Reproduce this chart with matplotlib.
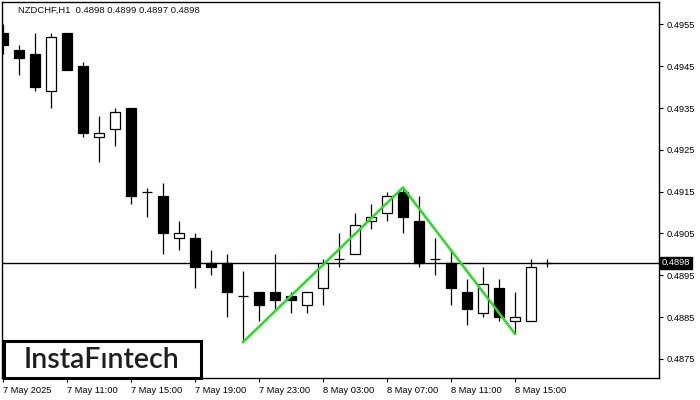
import matplotlib
matplotlib.use("Agg")
import matplotlib.pyplot as plt
from matplotlib.patches import Rectangle

# ---- data (NZDCHF H1) ----
times = ["7 May 07:00", "7 May 08:00", "7 May 09:00", "7 May 10:00", "7 May 11:00",
         "7 May 12:00", "7 May 13:00", "7 May 14:00", "7 May 15:00", "7 May 16:00",
         "7 May 17:00", "7 May 18:00", "7 May 19:00", "7 May 20:00", "7 May 21:00",
         "7 May 22:00", "7 May 23:00", "8 May 00:00", "8 May 01:00", "8 May 02:00",
         "8 May 03:00", "8 May 04:00", "8 May 05:00", "8 May 06:00", "8 May 07:00",
         "8 May 08:00", "8 May 09:00", "8 May 10:00", "8 May 11:00", "8 May 12:00",
         "8 May 13:00", "8 May 14:00", "8 May 15:00", "8 May 16:00", "8 May 17:00"]
opens  = [0.4953, 0.4949, 0.4948, 0.4939, 0.4953, 0.4945, 0.4928, 0.4930, 0.4935, 0.4915,
          0.4914, 0.4904, 0.4904, 0.4898, 0.4898, 0.4890, 0.4891, 0.4891, 0.4890, 0.4888,
          0.4892, 0.4899, 0.4900, 0.4908, 0.4910, 0.4915, 0.4908, 0.4899, 0.4898, 0.4891,
          0.4886, 0.4892, 0.4884, 0.4884, 0.4898]
highs  = [0.4955, 0.4950, 0.4953, 0.4953, 0.4953, 0.4946, 0.4933, 0.4935, 0.4935, 0.4916,
          0.4917, 0.4908, 0.4905, 0.4901, 0.4900, 0.4896, 0.4891, 0.4900, 0.4891, 0.4891,
          0.4899, 0.4905, 0.4910, 0.4912, 0.4915, 0.4916, 0.4914, 0.4904, 0.4901, 0.4894,
          0.4897, 0.4894, 0.4891, 0.4899, 0.4899]
lows   = [0.4948, 0.4943, 0.4939, 0.4935, 0.4944, 0.4928, 0.4922, 0.4926, 0.4912, 0.4909,
          0.4900, 0.4901, 0.4892, 0.4895, 0.4885, 0.4879, 0.4884, 0.4887, 0.4886, 0.4886,
          0.4888, 0.4897, 0.4900, 0.4906, 0.4908, 0.4905, 0.4897, 0.4895, 0.4888, 0.4883,
          0.4885, 0.4884, 0.4881, 0.4884, 0.4897]
closes = [0.4950, 0.4947, 0.4940, 0.4952, 0.4944, 0.4929, 0.4929, 0.4934, 0.4914, 0.4915,
          0.4905, 0.4905, 0.4897, 0.4897, 0.4891, 0.4890, 0.4888, 0.4889, 0.4889, 0.4891,
          0.4898, 0.4899, 0.4907, 0.4909, 0.4914, 0.4909, 0.4898, 0.4899, 0.4892, 0.4887,
          0.4893, 0.4885, 0.4885, 0.4897, 0.4898]
current_price = 0.4898
title_text = "NZDCHF,H1  0.4898 0.4899 0.4897 0.4898"
xtick_idx = [0, 4, 8, 12, 16, 20, 24, 28, 32]
xtick_labels = ["7 May 2025", "7 May 11:00", "7 May 15:00", "7 May 19:00", "7 May 23:00",
                "8 May 03:00", "8 May 07:00", "8 May 11:00", "8 May 15:00"]
ytick_vals = [0.4875, 0.4885, 0.4895, 0.4905, 0.4915, 0.4925, 0.4935, 0.4945, 0.4955]
# double top pattern: low -> peak -> low
pattern_idx = [15, 25, 32]
pattern_price = [lows[15], highs[25], lows[32]]

# ---- figure ----
W, H = 700, 400
fig = plt.figure(figsize=(W / 100, H / 100), dpi=100)
fig.patch.set_facecolor("white")
ax = fig.add_axes([2 / W, 22 / H, 657 / W, 376 / H])
ax.set_facecolor("white")

font = "Liberation Sans"
body_w = 0.68
lw = 0.9
for i in range(len(opens)):
    o, h, l, c = opens[i], highs[i], lows[i], closes[i]
    ax.vlines(i, l, h, color="black", linewidth=lw, zorder=2)
    if abs(c - o) < 1e-9:
        ax.hlines(o, i - body_w / 2, i + body_w / 2, color="black", linewidth=lw, zorder=3)
    else:
        face = "white" if c > o else "black"
        ax.bar(i, abs(c - o), bottom=min(o, c), width=body_w, color=face,
               edgecolor="black", linewidth=lw, zorder=3)

ax.axhline(current_price, color="black", linewidth=1.0, zorder=1)
ax.plot(pattern_idx, pattern_price, color="#22e01e", linewidth=1.8, zorder=4,
        solid_joinstyle="round")

ax.set_xlim(-0.0625, 41.0)
ax.set_ylim(0.487043, 0.496038)

ax.yaxis.tick_right()
ax.set_yticks(ytick_vals)
ax.set_yticklabels([f"{v:.4f}" for v in ytick_vals], fontsize=6.7, family=font)
ax.set_xticks(xtick_idx)
ax.set_xticklabels(xtick_labels, fontsize=6.7, family=font, ha="left")
ax.tick_params(axis="both", direction="out", length=3, width=0.8, color="black")
ax.tick_params(axis="y", pad=2.5)
ax.tick_params(axis="x", pad=3)
for sp in ax.spines.values():
    sp.set_linewidth(1.0)
    sp.set_color("black")

ax.text(0.0248, 0.977, title_text, transform=ax.transAxes, fontsize=6.8,
        family=font, va="center", ha="left", color="#111111")

# current price tag on the right axis
ax.text(1.004, current_price, f"{current_price:.4f}", transform=ax.get_yaxis_transform(),
        fontsize=6.7, family=font, color="white", va="center", ha="left",
        bbox=dict(boxstyle="square,pad=0.18", facecolor="black", edgecolor="black"),
        zorder=10, clip_on=False)

# logo box
fig.add_artist(Rectangle((3.5 / W, 22 / H), 197 / W, 37.5 / H, transform=fig.transFigure,
                         facecolor="white", edgecolor="black", linewidth=2.2, zorder=20))
fig.text(101.5 / W, (H - 359.5) / H, "InstaF\u0131ntech", fontsize=20.5, family="Lato",
         fontweight="semibold", color="#1e1e1e", ha="center", va="center", zorder=21)

fig.savefig("out.png", dpi=100, facecolor="white")
